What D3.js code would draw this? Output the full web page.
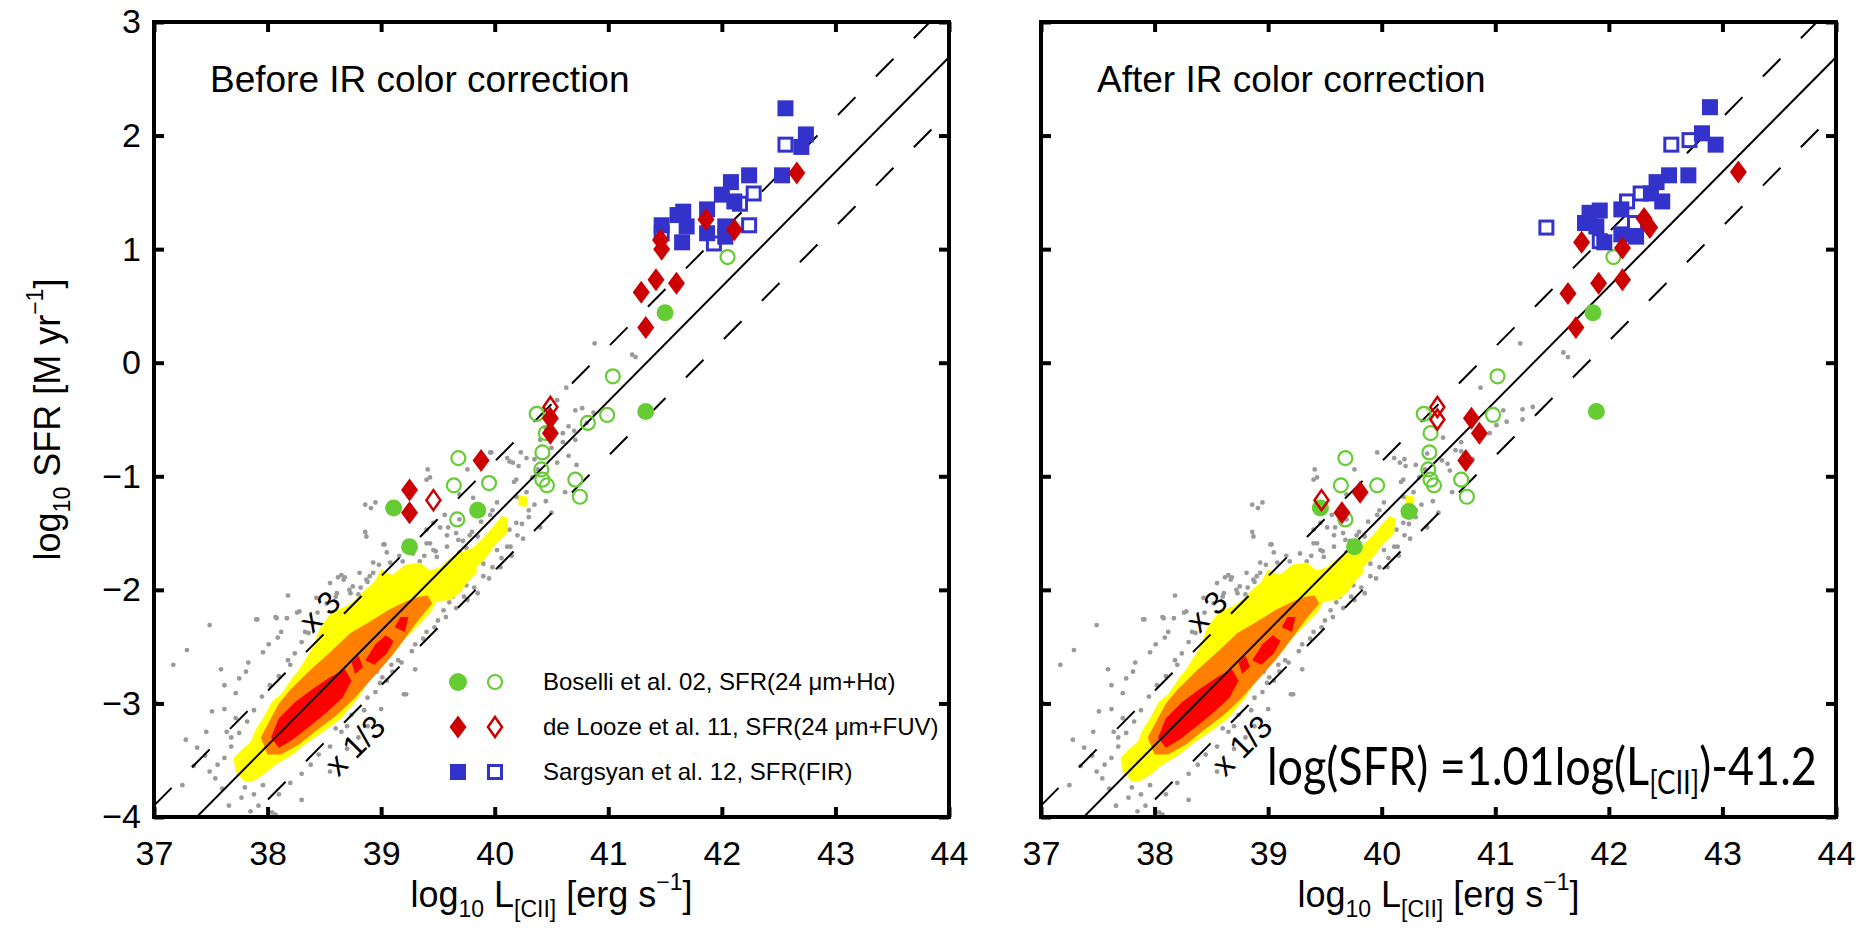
<!DOCTYPE html>
<html><head><meta charset="utf-8">
<script src="https://cdn.jsdelivr.net/npm/d3@7"></script>
<style>
body{margin:0;background:#fff}
text{font-family:"Liberation Sans",Arial,Helvetica,sans-serif;fill:#000}
</style>
</head><body>
<svg id="chart" width="1875" height="930"></svg>
<script>
// ---------------- data ----------------
const xTicks = [37, 38, 39, 40, 41, 42, 43, 44];
const yTicks = [-4, -3, -2, -1, 0, 1, 2, 3];
const xDomain = [37, 44];
const yDomain = [-4, 3];

// fit line and x3 / x1/3 offset lines (endpoints, log10 L, log10 SFR)
const fitSolid = [[37, -4.38], [44, 2.69]];
const fitTimes3 = [[37, -3.90], [44, 3.17]];
const fitThird = [[37, -4.86], [44, 2.21]];

// density contours of the resolved sample (same in both panels)
const contourYellow = [[37.80,-3.69],[37.72,-3.60],[37.70,-3.48],[37.78,-3.40],[37.85,-3.34],[37.90,-3.22],[37.96,-3.13],[38.04,-2.98],[38.12,-2.92],[38.22,-2.77],[38.28,-2.70],[38.34,-2.60],[38.40,-2.50],[38.46,-2.34],[38.53,-2.24],[38.60,-2.18],[38.70,-2.14],[38.78,-2.08],[38.86,-2.00],[38.94,-1.93],[39.00,-1.82],[39.10,-1.87],[39.21,-1.78],[39.34,-1.76],[39.43,-1.83],[39.52,-1.80],[39.61,-1.72],[39.72,-1.66],[39.81,-1.63],[39.93,-1.51],[40.02,-1.40],[40.07,-1.35],[40.12,-1.37],[40.11,-1.50],[39.99,-1.62],[39.96,-1.67],[39.90,-1.74],[39.84,-1.80],[39.84,-1.85],[39.78,-1.91],[39.69,-2.03],[39.61,-2.09],[39.49,-2.10],[39.44,-2.19],[39.33,-2.31],[39.22,-2.42],[39.12,-2.55],[39.02,-2.66],[38.91,-2.77],[38.80,-2.95],[38.65,-3.13],[38.49,-3.25],[38.33,-3.36],[38.22,-3.45],[38.07,-3.54],[37.96,-3.63],[37.88,-3.68]];
const contourYellowSmall = [[40.21,-1.17],[40.29,-1.18],[40.28,-1.27],[40.21,-1.26]];
const contourOrange = [[39.41,-2.05],[39.45,-2.12],[39.34,-2.25],[39.23,-2.40],[39.08,-2.60],[38.92,-2.78],[38.76,-2.96],[38.60,-3.11],[38.44,-3.23],[38.28,-3.36],[38.12,-3.45],[38.00,-3.45],[37.94,-3.30],[38.02,-3.15],[38.10,-3.00],[38.20,-2.88],[38.36,-2.72],[38.56,-2.54],[38.73,-2.38],[38.90,-2.28],[39.06,-2.18],[39.22,-2.10],[39.33,-2.06]];
const contourRed1 = [[38.03,-3.30],[38.10,-3.13],[38.24,-2.99],[38.40,-2.87],[38.55,-2.77],[38.68,-2.70],[38.74,-2.80],[38.66,-2.95],[38.52,-3.08],[38.36,-3.21],[38.22,-3.32],[38.10,-3.39]];
const contourRed2 = [[38.86,-2.62],[38.95,-2.48],[39.04,-2.40],[39.11,-2.45],[39.05,-2.56],[38.94,-2.66]];
const contourRed3 = [[39.12,-2.33],[39.17,-2.24],[39.24,-2.24],[39.21,-2.37]];
const contourRed4 = [[38.74,-2.64],[38.80,-2.58],[38.84,-2.68],[38.77,-2.74]];

// grey points (individual galaxy regions)
const grayBulk = [[37.17,-2.66],[37.29,-2.53],[37.49,-2.31],[37.59,-2.70],[37.72,-2.91],[37.75,-2.78],[37.81,-2.72],[37.91,-2.26],[38.07,-2.24],[38.09,-2.42],[38.12,-2.37],[38.20,-2.66],[37.28,-3.32],[37.38,-3.39],[37.46,-3.25],[37.51,-3.07],[37.49,-3.60],[37.54,-3.66],[37.56,-3.54],[37.62,-3.48],[37.64,-3.25],[37.72,-3.13],[37.77,-3.83],[37.85,-3.95],[38.07,-3.98],[37.01,-2.99],[37.62,-2.84],[37.83,-2.64],[37.96,-2.55],[38.01,-2.48],[38.17,-2.25],[38.28,-2.19],[38.33,-2.37],[38.65,-1.87],[38.67,-1.91],[38.80,-2.04],[38.86,-1.49],[38.91,-1.28],[39.12,-2.07],[39.07,-2.16],[39.28,-2.02],[39.33,-2.19],[39.20,-2.92],[39.01,-2.77],[39.09,-2.66],[38.96,-2.72],[39.43,-2.02],[39.51,-1.87],[39.65,-1.72],[39.70,-1.78],[39.75,-1.63],[39.80,-1.49],[39.96,-1.34],[40.07,-1.43],[40.22,-1.19],[40.28,-1.14],[40.17,-1.05],[40.33,-1.01],[40.38,-0.94],[40.62,-1.14],[39.75,-1.96],[39.60,-2.11],[38.65,-3.25],[38.80,-3.30],[38.38,-3.54],[37.96,-3.72],[38.04,-3.96],[39.22,-2.92],
[37.90,-2.26],[38.08,-2.25],[38.26,-2.20],[38.43,-2.07],[38.62,-1.89],[38.68,-1.89],[38.81,-1.85],[38.88,-1.93],[38.96,-1.97],[38.87,-1.53],[38.93,-1.76],[38.86,-1.25],[38.95,-1.23],[39.03,-1.60],[39.05,-1.67],[39.19,-1.75],[39.23,-1.84],[39.34,-1.75],[39.40,-1.47],[39.41,-0.94],[39.43,-1.01],[39.43,-1.59],[39.49,-1.71],[39.58,-1.52],[39.59,-1.45],[39.66,-1.50],[39.72,-1.57],[39.69,-1.16],[39.76,-0.94],[39.81,-1.19],[39.85,-1.53],[39.90,-1.62],[39.96,-0.79],[40.02,-1.23],[40.11,-0.84],[40.16,-0.88],[40.21,-0.91],[40.19,-1.03],[40.19,-1.18],[40.07,-1.47],[40.11,-1.62],[40.02,-1.65],[39.69,-2.00],[39.63,-2.06],[39.76,-2.09],[39.69,-1.91],[39.63,-1.94],[38.61,-2.03],[38.55,-1.94],[38.73,-2.03],[38.75,-1.97],[38.87,-1.91],[38.93,-1.85],[39.02,-1.60],[39.40,-1.59],[39.46,-1.65],[39.46,-1.41],[39.52,-1.45],[39.56,-1.34],[39.69,-1.38],[39.69,-1.67],[39.81,-1.82],[39.90,-1.77],[40.13,-1.47],[40.19,-1.41],[39.40,-1.03],
[37.60,-3.75],[37.66,-3.90],[37.80,-3.74],[37.88,-3.80],[38.10,-3.80],[38.20,-3.70],[38.30,-3.62],[38.45,-3.45],[38.55,-3.38],[38.70,-3.20],[38.85,-3.06],[38.95,-2.90],[39.05,-2.80],[39.15,-2.62],[39.30,-2.48],[39.40,-2.37],[39.50,-2.27],[39.55,-2.18],[39.85,-2.03],[39.95,-1.90],[40.05,-1.80],[40.15,-1.70],[40.25,-1.55],[40.30,-1.36],[40.35,-1.25],[40.45,-1.22],[40.50,-1.32],[40.40,-1.45],
[37.35,-3.55],[37.25,-3.72],[37.45,-3.46],[37.62,-3.05],[37.68,-3.30],[38.18,-2.05],[38.40,-2.30],[38.70,-3.40],[38.55,-3.60],[38.88,-3.20],[39.00,-3.05],[39.30,-2.70],[38.30,-3.85],[37.92,-3.90],
[37.68,-3.38],[37.75,-3.26],[37.82,-3.16],[37.88,-3.06],[37.95,-2.94],[38.02,-2.84],[38.10,-2.76],[38.18,-2.62],[38.24,-2.56],[38.30,-2.46],[38.36,-2.38],[38.44,-2.20],[38.52,-2.12],[38.60,-2.06],[38.72,-2.00],[38.82,-1.98],[38.90,-1.88],[38.98,-1.78],[39.08,-1.76],[39.16,-1.70],[39.28,-1.68],[39.38,-1.70],[39.48,-1.66],[39.58,-1.62],[39.68,-1.56],[39.78,-1.52],[39.88,-1.40],[39.98,-1.30],
[38.60,-3.22],[38.74,-3.10],[38.88,-2.95],[38.99,-2.82],[39.10,-2.72],[39.18,-2.64],[39.27,-2.54],[39.37,-2.43],[39.47,-2.33],[39.57,-2.24],[39.66,-2.16],[39.73,-2.06],[39.82,-1.98],[39.90,-1.88],[39.98,-1.80],[40.06,-1.72],[40.14,-1.62],[40.20,-1.52],[40.24,-1.42],[40.30,-1.30]];
const grayUpperBefore = [[40.88,0.17],[41.21,0.07],[41.24,0.05],[40.63,-0.22],[40.55,-0.33],[40.71,-0.42],[40.77,-0.40],[40.87,-0.44],[40.65,-0.56],[40.70,-0.60],[40.71,-0.68],[40.60,-0.70],[40.81,-0.53],[40.50,-0.75],[40.23,-0.79],[40.28,-0.84],[40.13,-0.87],[39.97,-0.79],[40.60,-0.62],[40.40,-0.68],[40.35,-0.85],[40.55,-0.88],[40.65,-0.82],[40.72,-0.90],[40.45,-0.58]];
const grayUpperAfter = [[41.22,0.17],[41.60,0.09],[41.64,0.05],[40.87,-0.22],[41.07,-0.42],[41.24,-0.41],[41.24,-0.50],[41.33,-0.39],[41.01,-0.55],[41.10,-0.52],[40.54,-0.66],[40.70,-0.70],[40.65,-0.77],[40.70,-0.78],[40.53,-0.86],[40.58,-0.89],[40.80,-0.85],[40.60,-0.95],[40.40,-0.80],[40.95,-0.62],[40.30,-0.90],[40.20,-0.85]];

// Boselli et al. 02 (green circles)
const boselliFilledBefore = [[41.50,0.44],[41.33,-0.43],[39.11,-1.28],[39.85,-1.30],[39.25,-1.62]];
const boselliOpenBefore = [[42.05,0.93],[41.04,-0.12],[40.99,-0.46],[40.82,-0.53],[40.37,-0.45],[40.45,-0.62],[40.42,-0.79],[39.68,-0.84],[39.64,-1.08],[39.95,-1.06],[39.67,-1.38],[40.41,-0.94],[40.42,-1.03],[40.46,-1.08],[40.71,-1.03],[40.75,-1.18]];
const boselliFilledAfter = [[41.86,0.44],[41.89,-0.43],[39.46,-1.28],[39.76,-1.62],[40.24,-1.31]];
const boselliOpenAfter = [[42.04,0.93],[41.02,-0.12],[40.98,-0.46],[40.37,-0.45],[40.43,-0.62],[40.42,-0.79],[39.68,-0.84],[39.64,-1.08],[39.68,-1.38],[39.96,-1.08],[40.41,-0.94],[40.43,-1.03],[40.46,-1.08],[40.70,-1.03],[40.75,-1.18]];
// de Looze et al. 11 (red diamonds)
const deloozeFilledBefore = [[42.66,1.67],[41.86,1.26],[42.11,1.17],[41.46,1.08],[41.47,1.00],[41.42,0.73],[41.60,0.70],[41.29,0.62],[41.33,0.31],[40.49,-0.49],[40.49,-0.62],[39.88,-0.86],[39.25,-1.12],[39.25,-1.32]];
const deloozeOpenBefore = [[40.49,-0.39],[39.46,-1.21]];
const deloozeFilledAfter = [[43.14,1.68],[42.31,1.27],[42.36,1.19],[41.76,1.06],[42.12,1.01],[41.91,0.70],[42.12,0.73],[41.64,0.61],[41.71,0.31],[40.79,-0.49],[40.86,-0.62],[40.74,-0.86],[39.81,-1.14],[39.65,-1.32]];
const deloozeOpenAfter = [[40.49,-0.39],[40.49,-0.50],[39.47,-1.21]];
// Sargsyan et al. 12 (blue squares)
const sargsyanFilledBefore = [[42.56,2.24],[42.53,1.65],[42.70,1.90],[42.74,2.01],[42.24,1.65],[42.08,1.59],[42.00,1.48],[42.11,1.42],[42.03,1.20],[42.03,1.11],[41.87,1.35],[41.87,1.14],[41.66,1.33],[41.61,1.30],[41.69,1.20],[41.47,1.21],[41.65,1.06]];
const sargsyanOpenBefore = [[42.28,1.49],[42.24,1.21],[42.56,1.92],[41.93,1.05],[42.16,1.40],[41.47,1.14]];
const sargsyanFilledAfter = [[42.89,2.25],[42.82,2.02],[42.94,1.92],[42.53,1.65],[42.70,1.65],[42.42,1.59],[42.37,1.49],[42.47,1.42],[42.11,1.35],[41.92,1.34],[41.83,1.32],[41.79,1.23],[41.89,1.20],[42.11,1.13],[42.24,1.11],[41.96,1.06]];
const sargsyanOpenAfter = [[41.45,1.19],[42.55,1.92],[42.71,1.96],[42.28,1.49],[42.16,1.42],[42.23,1.23],[41.92,1.07]];

const legendLabels = ["Boselli et al. 02, SFR(24 μm+Hα)", "de Looze et al. 11, SFR(24 μm+FUV)", "Sargsyan et al. 12, SFR(FIR)"];
const panelTitles = ["Before IR color correction", "After IR color correction"];

// ---------------- drawing ----------------
const GREEN = "#66cc33", RED = "#cc0000", BLUE = "#3333cc", GRAY = "#9a9a9a";
const svg = d3.select("#chart");
const plotTop = 22, plotBottom = 817;

const panels = [
  {x0:154, x1:949, title:panelTitles[0], grayUpper:grayUpperBefore,
   gF:boselliFilledBefore, gO:boselliOpenBefore, rF:deloozeFilledBefore, rO:deloozeOpenBefore,
   bF:sargsyanFilledBefore, bO:sargsyanOpenBefore, yLabels:true, legend:true, eq:false},
  {x0:1041, x1:1836, title:panelTitles[1], grayUpper:grayUpperAfter,
   gF:boselliFilledAfter, gO:boselliOpenAfter, rF:deloozeFilledAfter, rO:deloozeOpenAfter,
   bF:sargsyanFilledAfter, bO:sargsyanOpenAfter, yLabels:false, legend:false, eq:true}
];

function diamondPath(cx, cy, w, h){ return `M${cx},${cy-h}L${cx+w},${cy}L${cx},${cy+h}L${cx-w},${cy}Z`; }

panels.forEach((p, i) => {
  const x = d3.scaleLinear().domain(xDomain).range([p.x0, p.x1]);
  const y = d3.scaleLinear().domain(yDomain).range([plotBottom, plotTop]);
  const g = svg.append("g");
  const clipId = "clip" + i;
  svg.append("defs").append("clipPath").attr("id", clipId)
    .append("rect").attr("x", p.x0).attr("y", plotTop).attr("width", p.x1 - p.x0).attr("height", plotBottom - plotTop);
  const plot = g.append("g").attr("clip-path", `url(#${clipId})`);

  // grey points
  plot.append("g").selectAll("circle").data(grayBulk.concat(p.grayUpper)).join("circle")
    .attr("cx", d => x(d[0])).attr("cy", d => y(d[1])).attr("r", 2.4).attr("fill", GRAY);

  // density contours
  const poly = d3.line().x(d => x(d[0])).y(d => y(d[1])).curve(d3.curveLinearClosed);
  [[contourYellow,"#ffff00"],[contourYellowSmall,"#ffff00"],[contourOrange,"#ff8000"],
   [contourRed1,"#ff0000"],[contourRed2,"#ff0000"],[contourRed3,"#ff0000"],[contourRed4,"#ff0000"]]
   .forEach(([pts, c]) => plot.append("path").attr("d", poly(pts)).attr("fill", c));

  // lines
  const line = d3.line().x(d => x(d[0])).y(d => y(d[1]));
  plot.append("path").attr("d", line(fitSolid)).attr("stroke", "#000").attr("stroke-width", 2).attr("fill", "none");
  [fitTimes3, fitThird].forEach(l => plot.append("path").attr("d", line(l)).attr("stroke", "#000")
    .attr("stroke-width", 2).attr("fill", "none").attr("stroke-dasharray", "25,29"));

  // x3 and x1/3 labels
  g.append("text").attr("transform", `translate(${x(38.46)},${y(-2.19)}) rotate(-45)`)
    .attr("text-anchor", "middle").attr("dominant-baseline", "central").style("font-size", "32px").text("x 3");
  g.append("text").attr("transform", `translate(${x(38.77)},${y(-3.37)}) rotate(-45)`)
    .attr("text-anchor", "middle").attr("dominant-baseline", "central").style("font-size", "32px").text("x 1/3");

  // markers: green, blue, red
  plot.append("g").selectAll("circle").data(p.gF).join("circle")
    .attr("cx", d => x(d[0])).attr("cy", d => y(d[1])).attr("r", 8.5).attr("fill", GREEN);
  plot.append("g").selectAll("circle").data(p.gO).join("circle")
    .attr("cx", d => x(d[0])).attr("cy", d => y(d[1])).attr("r", 7).attr("fill", "none")
    .attr("stroke", GREEN).attr("stroke-width", 2.2);
  plot.append("g").selectAll("rect").data(p.bF).join("rect")
    .attr("x", d => x(d[0]) - 8).attr("y", d => y(d[1]) - 8).attr("width", 16).attr("height", 16).attr("fill", BLUE);
  plot.append("g").selectAll("rect").data(p.bO).join("rect")
    .attr("x", d => x(d[0]) - 6.5).attr("y", d => y(d[1]) - 6.5).attr("width", 13).attr("height", 13)
    .attr("fill", "none").attr("stroke", BLUE).attr("stroke-width", 3);
  plot.append("g").selectAll("path").data(p.rF).join("path")
    .attr("d", d => diamondPath(x(d[0]), y(d[1]), 8.5, 11.5)).attr("fill", RED);
  plot.append("g").selectAll("path").data(p.rO).join("path")
    .attr("d", d => diamondPath(x(d[0]), y(d[1]), 7, 10)).attr("fill", "none")
    .attr("stroke", RED).attr("stroke-width", 2.5);

  // axes (inward ticks on all four sides)
  const axB = d3.axisBottom(x).tickValues(xTicks).tickSize(-10).tickPadding(24).tickFormat(d3.format("d"));
  const axT = d3.axisTop(x).tickValues(xTicks).tickSize(-10).tickFormat("");
  const axL = d3.axisLeft(y).tickValues(yTicks).tickSize(-10).tickPadding(13)
    .tickFormat(p.yLabels ? (d => d < 0 ? "\u2212" + Math.abs(d) : String(d)) : "");
  const axR = d3.axisRight(y).tickValues(yTicks).tickSize(-10).tickFormat("");
  const styleAx = sel => { sel.select(".domain").remove();
    sel.selectAll(".tick line").attr("stroke", "#000").attr("stroke-width", 4);
    sel.selectAll(".tick text").style("font-size", "34px").attr("font-family", null); };
  g.append("g").attr("transform", `translate(0,${plotBottom})`).call(axB).call(styleAx);
  g.append("g").attr("transform", `translate(0,${plotTop})`).call(axT).call(styleAx);
  g.append("g").attr("transform", `translate(${p.x0},0)`).call(axL).call(styleAx);
  g.append("g").attr("transform", `translate(${p.x1},0)`).call(axR).call(styleAx);

  // frame
  g.append("rect").attr("x", p.x0).attr("y", plotTop).attr("width", p.x1 - p.x0).attr("height", plotBottom - plotTop)
    .attr("fill", "none").attr("stroke", "#000").attr("stroke-width", 4);

  // title
  g.append("text").attr("x", p.x0 + 56).attr("y", 92).style("font-size", "37px").text(p.title);

  // x label
  const xl = g.append("text").attr("x", (p.x0 + p.x1) / 2).attr("y", 907).attr("text-anchor", "middle").style("font-size", "36px");
  xl.append("tspan").text("log");
  xl.append("tspan").attr("dy", 10).style("font-size", "23px").text("10");
  xl.append("tspan").attr("dy", -10).text(" L");
  xl.append("tspan").attr("dy", 10).style("font-size", "23px").text("[CII]");
  xl.append("tspan").attr("dy", -10).text(" [erg s");
  xl.append("tspan").attr("dy", -17).style("font-size", "23px").text("\u22121");
  xl.append("tspan").attr("dy", 17).text("]");

  // y label
  if (p.yLabels) {
    const yl = g.append("text").attr("transform", `translate(60,${(plotTop + plotBottom) / 2}) rotate(-90)`)
      .attr("text-anchor", "middle").style("font-size", "36px");
    yl.append("tspan").text("log");
    yl.append("tspan").attr("dy", 10).style("font-size", "23px").text("10");
    yl.append("tspan").attr("dy", -10).text(" SFR [M  yr");
    yl.append("tspan").attr("dy", -17).style("font-size", "23px").text("\u22121");
    yl.append("tspan").attr("dy", 17).text("]");
  }

  // legend
  if (p.legend) {
    const rows = [682, 727, 772];
    const lg = g.append("g");
    lg.append("circle").attr("cx", 458).attr("cy", rows[0]).attr("r", 9).attr("fill", GREEN);
    lg.append("circle").attr("cx", 495).attr("cy", rows[0]).attr("r", 7).attr("fill", "none").attr("stroke", GREEN).attr("stroke-width", 2.2);
    lg.append("path").attr("d", diamondPath(458, rows[1], 8.5, 11.5)).attr("fill", RED);
    lg.append("path").attr("d", diamondPath(495, rows[1], 7, 10)).attr("fill", "none").attr("stroke", RED).attr("stroke-width", 2.5);
    lg.append("rect").attr("x", 450).attr("y", rows[2] - 8).attr("width", 16).attr("height", 16).attr("fill", BLUE);
    lg.append("rect").attr("x", 488.5).attr("y", rows[2] - 6.5).attr("width", 13).attr("height", 13).attr("fill", "none").attr("stroke", BLUE).attr("stroke-width", 3);
    legendLabels.forEach((t, k) => lg.append("text").attr("x", 543).attr("y", rows[k] + 8).style("font-size", "24px").text(t));
  }

  // equation
  if (p.eq) {
    const ex = 1267;
    const eq = g.append("text").attr("x", ex).attr("y", 785)
      .style("font-family", "Lato, 'Open Sans', sans-serif").style("font-size", "52px");
    eq.append("tspan").text("log(SFR) =1.01log(L");
    eq.append("tspan").attr("dy", 9).style("font-size", "32px").text("[CII]");
    eq.append("tspan").attr("dy", -9).text(")-41.2");
    const bb = eq.node().getBBox();
    const s = 550 / bb.width;
    eq.attr("transform", `translate(${ex},0) scale(${s},1) translate(${-ex},0)`);
  }
});
</script>
</body></html>
